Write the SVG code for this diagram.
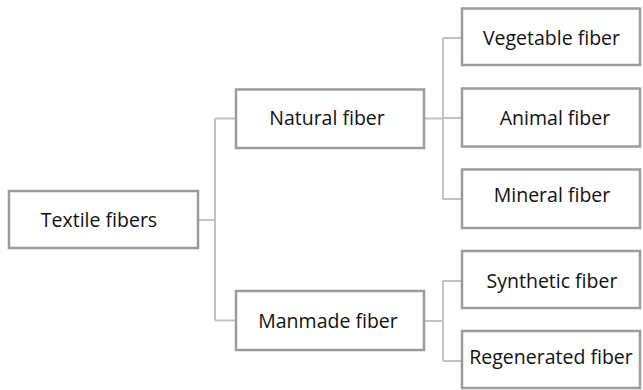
<svg xmlns="http://www.w3.org/2000/svg" width="643" height="390" viewBox="0 0 643 390">
<style>
.box{fill:#fff;stroke:#9c9c9c;stroke-width:2.5}
.lbl{font-family:"Open Sans","Noto Sans",sans-serif;font-size:19.5px;fill:#111;text-anchor:middle}
.conn{fill:none;stroke:#c2c2c2;stroke-width:2}
</style>
<rect width="643" height="390" fill="#fff"/>
<g id="connectors">
<path class="conn" d="M198,220 H215 M215,118.5 V320.5 M215,118.5 H236 M215,320.5 H236"/>
<path class="conn" d="M424,118.5 H443 M443,38 V199 M443,38 H462 M443,118 H462 M443,199 H462"/>
<path class="conn" d="M424,321 H443 M443,281 V361 M443,281 H462 M443,361 H462"/>
</g>
<g id="textile"><rect class="box" x="9" y="191" width="189" height="57"/><text class="lbl" x="99" y="226.5">Textile fibers</text></g>
<g id="natural"><rect class="box" x="236" y="89.5" width="188" height="58.5"/><text class="lbl" x="327" y="125">Natural fiber</text></g>
<g id="manmade"><rect class="box" x="236" y="291" width="188" height="59"/><text class="lbl" x="328" y="328">Manmade fiber</text></g>
<g id="vegetable"><rect class="box" x="462" y="8.5" width="178" height="56.5"/><text class="lbl" x="551.5" y="45">Vegetable fiber</text></g>
<g id="animal"><rect class="box" x="462" y="88.5" width="178" height="58"/><text class="lbl" x="555" y="125">Animal fiber</text></g>
<g id="mineral"><rect class="box" x="462" y="169.5" width="178" height="58.5"/><text class="lbl" x="552" y="201.5">Mineral fiber</text></g>
<g id="synthetic"><rect class="box" x="462" y="251" width="178" height="57"/><text class="lbl" x="552" y="287.5">Synthetic fiber</text></g>
<g id="regenerated"><rect class="box" x="462" y="331" width="178" height="57"/><text class="lbl" x="551" y="364">Regenerated fiber</text></g>
</svg>
